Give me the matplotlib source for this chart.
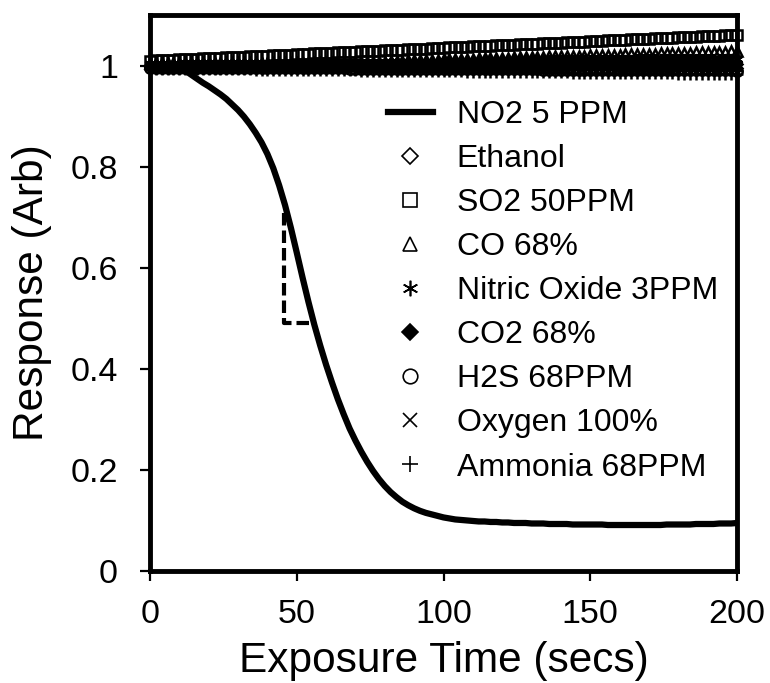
import numpy as np
import matplotlib
matplotlib.use("Agg")
import matplotlib.pyplot as plt

plt.rcParams['font.family'] = ['Liberation Sans', 'DejaVu Sans']

# exposure time, every 2 secs
time_s = np.arange(0, 201, 2)

no2 = [1.000, 1.000, 1.000, 1.000, 0.999, 0.996, 0.990, 0.982, 0.974, 0.966,
       0.959, 0.951, 0.943, 0.934, 0.923, 0.912, 0.899, 0.884, 0.867, 0.848,
       0.825, 0.797, 0.763, 0.724, 0.679, 0.630, 0.580, 0.532, 0.487, 0.446,
       0.408, 0.373, 0.340, 0.310, 0.282, 0.258, 0.236, 0.216, 0.198, 0.182,
       0.168, 0.156, 0.146, 0.137, 0.130, 0.124, 0.119, 0.115, 0.112, 0.109,
       0.106, 0.104, 0.102, 0.101, 0.100, 0.099, 0.098, 0.098, 0.097, 0.097,
       0.096, 0.096, 0.095, 0.095, 0.095, 0.094, 0.094, 0.094, 0.093, 0.093,
       0.093, 0.093, 0.092, 0.092, 0.092, 0.092, 0.092, 0.092, 0.091, 0.091,
       0.091, 0.091, 0.091, 0.091, 0.091, 0.091, 0.091, 0.091, 0.092, 0.092,
       0.092, 0.092, 0.092, 0.093, 0.093, 0.093, 0.093, 0.094, 0.094, 0.094,
       0.095]

ethanol = [0.998] * 50 + [0.997] * 30 + [0.996] * 21

so2 = [1.009, 1.010, 1.010, 1.011, 1.011, 1.012, 1.012, 1.013, 1.013, 1.014,
       1.014, 1.015, 1.015, 1.016, 1.016, 1.017, 1.017, 1.018, 1.018, 1.019,
       1.019, 1.020, 1.020, 1.021, 1.021, 1.022, 1.023, 1.023, 1.024, 1.024,
       1.025, 1.025, 1.026, 1.026, 1.027, 1.027, 1.028, 1.028, 1.029, 1.029,
       1.030, 1.030, 1.031, 1.031, 1.032, 1.032, 1.033, 1.033, 1.034, 1.034,
       1.035, 1.036, 1.036, 1.037, 1.037, 1.038, 1.038, 1.039, 1.039, 1.040,
       1.040, 1.041, 1.041, 1.042, 1.042, 1.043, 1.043, 1.044, 1.044, 1.045,
       1.045, 1.046, 1.046, 1.047, 1.047, 1.048, 1.049, 1.049, 1.050, 1.050,
       1.051, 1.051, 1.052, 1.052, 1.053, 1.053, 1.054, 1.054, 1.055, 1.055,
       1.056, 1.056, 1.057, 1.057, 1.058, 1.058, 1.059, 1.059, 1.060, 1.060,
       1.061]

co = [1.005, 1.005, 1.005, 1.005, 1.005, 1.005, 1.005, 1.005, 1.005, 1.005,
      1.005, 1.005, 1.005, 1.005, 1.005, 1.005, 1.005, 1.005, 1.005, 1.005,
      1.005, 1.005, 1.005, 1.005, 1.005, 1.005, 1.005, 1.005, 1.005, 1.005,
      1.005, 1.005, 1.006, 1.006, 1.006, 1.007, 1.007, 1.007, 1.008, 1.008,
      1.008, 1.009, 1.009, 1.009, 1.010, 1.010, 1.010, 1.011, 1.011, 1.011,
      1.012, 1.012, 1.012, 1.013, 1.013, 1.013, 1.014, 1.014, 1.014, 1.015,
      1.015, 1.015, 1.016, 1.016, 1.016, 1.017, 1.017, 1.017, 1.018, 1.018,
      1.018, 1.019, 1.019, 1.019, 1.019, 1.020, 1.020, 1.020, 1.021, 1.021,
      1.021, 1.022, 1.022, 1.022, 1.023, 1.023, 1.023, 1.024, 1.024, 1.024,
      1.025, 1.025, 1.025, 1.026, 1.026, 1.026, 1.027, 1.027, 1.027, 1.028,
      1.028]

nitric_oxide = ([1.004] * 6 + [1.005] * 11 + [1.006] * 11 + [1.007] * 11 +
                [1.008] * 11 + [1.009] * 11 + [1.010] * 11 + [1.011] * 11 +
                [1.012] * 11 + [1.013] * 7)

co2 = [1.001] * 50 + [1.002] * 20 + [1.003] * 20 + [1.004] * 11

h2s = ([0.996] * 17 + [0.995] * 17 + [0.994] * 16 + [0.993] * 17 +
       [0.992] * 17 + [0.991] * 16 + [0.990] * 1)

oxygen = [1.000] * 60 + [0.999] * 41

ammonia = ([0.994] * 9 + [0.993] * 9 + [0.992] * 9 + [0.991] * 9 +
           [0.990] * 9 + [0.989] * 9 + [0.988] * 9 + [0.987] * 9 +
           [0.986] * 9 + [0.985] * 9 + [0.984] * 9 + [0.983] * 2)

# dashed guide next to the steep part of the NO2 curve
guide_t = [45.5, 45.5, 55.7]
guide_y = [0.709, 0.491, 0.491]

xticks = [0, 50, 100, 150, 200]
yticks = [0, 0.2, 0.4, 0.6, 0.8, 1.0]
ytick_labels = ['0', '0.2', '0.4', '0.6', '0.8', '1']

fig = plt.figure(figsize=(7.7, 6.83), dpi=100)
ax = fig.add_axes([150/770, 1 - 571/683, 587/770, 556/683])

ax.plot(time_s, no2, color='black', lw=4.5, label='NO2 5 PPM', zorder=2)
ax.plot(guide_t, guide_y, color='black', lw=3, ls=(0, (3, 1.2)), zorder=2)

gases = [
    (ethanol, 'Ethanol', dict(marker='D', ms=5.5, mfc='none')),
    (so2, 'SO2 50PPM', dict(marker='s', ms=7.5, mfc='none')),
    (co, 'CO 68%', dict(marker='^', ms=7.5, mfc='none')),
    (nitric_oxide, 'Nitric Oxide 3PPM', dict(marker=(6, 2, 0), ms=8.0)),
    (co2, 'CO2 68%', dict(marker='D', ms=5.5, mfc='black')),
    (h2s, 'H2S 68PPM', dict(marker='o', ms=7.5, mfc='none')),
    (oxygen, 'Oxygen 100%', dict(marker='x', ms=7.5)),
    (ammonia, 'Ammonia 68PPM', dict(marker='+', ms=8.5)),
]
for vals, name, style in gases:
    ax.plot(time_s, vals, ls='none', color='black', mec='black', mew=1.8,
            label=name, clip_on=False, zorder=3, **style)

ax.set_xlim(0, 200)
ax.set_ylim(0, 1.1)
ax.set_xticks(xticks)
ax.set_yticks(yticks)
ax.set_yticklabels(ytick_labels)

for sp in ax.spines.values():
    sp.set_linewidth(3.5)
ax.tick_params(direction='out', length=7, width=1.6, labelsize=24.5)
ax.tick_params(axis='x', pad=13)
ax.tick_params(axis='y', pad=16)

ax.set_xlabel('Exposure Time (secs)', fontsize=30.5, labelpad=8)
ax.set_ylabel('Response (Arb)', fontsize=30.5, labelpad=13)

leg = ax.legend(loc='upper left', bbox_to_anchor=(0.4055, 0.847), frameon=False,
                fontsize=23, borderpad=0, borderaxespad=0, labelspacing=0.44,
                handlelength=1.4, handletextpad=0.75, markerscale=1.4)
for h in leg.legend_handles[1:]:
    h.set_markeredgewidth(1.2)

fig.savefig('out.png', dpi=100)
